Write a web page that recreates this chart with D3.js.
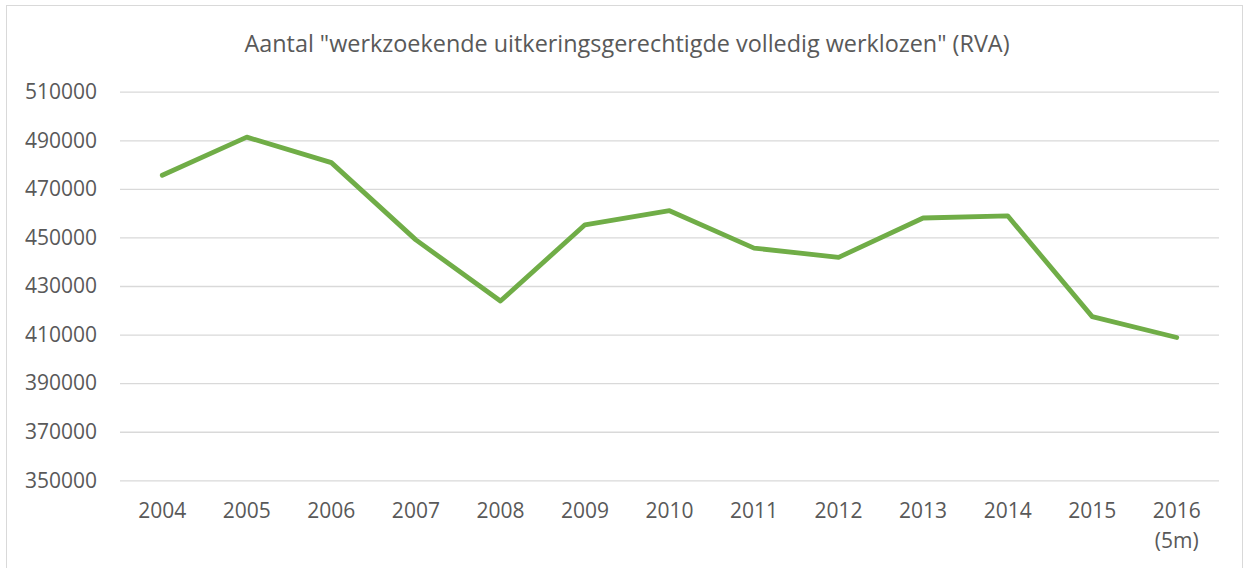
<!DOCTYPE html>
<html><head><meta charset="utf-8">
<script src="https://cdn.jsdelivr.net/npm/d3@7"></script>
<style>body{margin:0;background:#fff}svg{display:block}text{font-family:"Open Sans",sans-serif;fill:#595959}</style>
</head><body><svg id="c" width="1248" height="568"></svg>
<script>
const title = 'Aantal "werkzoekende uitkeringsgerechtigde volledig werklozen" (RVA)';
const categories = ["2004","2005","2006","2007","2008","2009","2010","2011","2012","2013","2014","2015","2016\n(5m)"];
const values = [475600,491300,480800,449000,423800,455200,461000,445600,441800,458000,458900,417400,408800];
const yTicks = [350000,370000,390000,410000,430000,450000,470000,490000,510000];

const svg = d3.select("#c");
svg.append("rect").attr("x",6.5).attr("y",5.5).attr("width",1236).attr("height",600)
  .attr("fill","#fff").attr("stroke","#d9d9d9");

const x = d3.scaleBand().domain(categories).range([120,1219]);
const y = d3.scaleLinear().domain([350000,510000]).range([480.3,91.7]);

svg.append("text").attr("x",627).attr("y",52).attr("text-anchor","middle")
  .style("font-size","23.4px").text(title);

const ya = svg.append("g").attr("transform","translate(120,0)")
  .call(d3.axisLeft(y).tickValues(yTicks).tickSize(-1099).tickFormat(d3.format("d")).tickPadding(23));
ya.select(".domain").remove();
ya.selectAll("line").attr("stroke","#d9d9d9").attr("stroke-width",1.3);
ya.selectAll("text").style("font-size","21px").attr("fill","#595959");

const xa = svg.append("g").attr("transform","translate(0,480)")
  .call(d3.axisBottom(x).tickSize(0).tickPadding(0).tickFormat(""));
xa.select(".domain").remove();
xa.selectAll(".tick").each(function(d){
  const lines = d.split("\n");
  const t = d3.select(this).append("text").attr("text-anchor","middle").style("font-size","21px").attr("fill","#595959");
  lines.forEach((l,i)=>t.append("tspan").attr("x",0).attr("y",38+i*30).text(l));
});

const line = d3.line().x((d,i)=>x(categories[i])+x.bandwidth()/2).y(d=>y(d));
svg.append("path").datum(values).attr("d",line).attr("fill","none")
  .attr("stroke","#70ad47").attr("stroke-width",4.8).attr("stroke-linejoin","round").attr("stroke-linecap","round");
</script></body></html>
